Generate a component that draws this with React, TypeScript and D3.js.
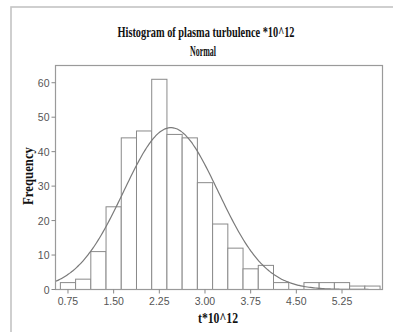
import React from "react";
import * as d3 from "d3";

const binCenters = [0.75, 1.0, 1.25, 1.5, 1.75, 2.0, 2.25, 2.5, 2.75, 3.0, 3.25, 3.5, 3.75, 4.0, 4.25, 4.5, 4.75, 5.0, 5.25, 5.5, 5.75];
const binCounts = [2, 3, 11, 24, 44, 46, 61, 45, 44, 31, 19, 12, 6, 7, 2, 0, 2, 2, 2, 1, 1];
const binWidth = 0.25;
const xTicks = [0.75, 1.5, 2.25, 3.0, 3.75, 4.5, 5.25];
const yTicks = [0, 10, 20, 30, 40, 50, 60];
const fitMean = 2.44;
const fitSd = 0.775;
const totalN = 365;

const W = 393;
const H = 332;
const plot = { left: 55.5, right: 382.5, top: 65.5, bottom: 289.5 };

export default function App() {
  const x = d3.scaleLinear().domain([0.545, 5.915]).range([plot.left, plot.right]);
  const y = d3.scaleLinear().domain([0, 65]).range([plot.bottom, plot.top]);

  const pdf = (v: number) =>
    (totalN * binWidth) / (fitSd * Math.sqrt(2 * Math.PI)) *
    Math.exp(-0.5 * ((v - fitMean) / fitSd) ** 2);
  const xs = d3.range(0, 201).map((i) => 0.545 + (i / 200) * (5.915 - 0.545));
  const line = d3
    .line<number>()
    .x((v) => x(v))
    .y((v) => y(pdf(v)))
    .curve(d3.curveBasis);

  const tickFont = "'Liberation Sans', Arial, sans-serif";
  const titleFont = "'Liberation Serif', 'Times New Roman', serif";

  return (
    <svg
      width={W}
      height={H}
      style={{ position: "absolute", left: 0, top: 0, background: "#fff" }}
    >
      <rect x={11} y={7} width={W + 20} height={H + 20} fill="#fff" stroke="#c4c4c4" strokeWidth={1.6} />
      <text x={206} y={37} textAnchor="middle" fontFamily={titleFont} fontWeight="bold" fontSize={14} textLength={177} lengthAdjust="spacingAndGlyphs" fill="#111">
        Histogram of plasma turbulence *10^12
      </text>
      <text x={203} y={56} textAnchor="middle" fontFamily={titleFont} fontWeight="bold" fontSize={14} textLength={26} lengthAdjust="spacingAndGlyphs" fill="#111">
        Normal
      </text>

      {binCenters.map((c, i) =>
        binCounts[i] > 0 ? (
          <rect
            key={i}
            x={x(c - binWidth / 2)}
            y={y(binCounts[i])}
            width={x(c + binWidth / 2) - x(c - binWidth / 2)}
            height={y(0) - y(binCounts[i])}
            fill="#fff"
            stroke="#8a8a8a"
            strokeWidth={1}
          />
        ) : null
      )}

      <path d={line(xs) || ""} fill="none" stroke="#7a7a7a" strokeWidth={1.2} />

      <rect x={plot.left} y={plot.top} width={plot.right - plot.left} height={plot.bottom - plot.top} fill="none" stroke="#9a9a9a" strokeWidth={1.2} />

      {yTicks.map((t) => (
        <g key={t}>
          <line x1={plot.left - 4} x2={plot.left} y1={y(t)} y2={y(t)} stroke="#888" />
          <text x={plot.left - 6} y={y(t) + 4} textAnchor="end" fontFamily={tickFont} fontSize={10.5} fill="#555">
            {t}
          </text>
        </g>
      ))}
      {xTicks.map((t) => (
        <g key={t}>
          <line x1={x(t)} x2={x(t)} y1={plot.bottom} y2={plot.bottom + 4} stroke="#888" />
          <text x={x(t)} y={plot.bottom + 15} textAnchor="middle" fontFamily={tickFont} fontSize={10.5} fill="#555">
            {t.toFixed(2)}
          </text>
        </g>
      ))}

      <text x={218} y={323} textAnchor="middle" fontFamily={titleFont} fontWeight="bold" fontSize={14} textLength={40} lengthAdjust="spacingAndGlyphs" fill="#111">
        t*10^12
      </text>
      <text transform="translate(33,176) rotate(-90)" textAnchor="middle" fontFamily={titleFont} fontWeight="bold" fontSize={14} textLength={58} lengthAdjust="spacingAndGlyphs" fill="#111">
        Frequency
      </text>
    </svg>
  );
}
